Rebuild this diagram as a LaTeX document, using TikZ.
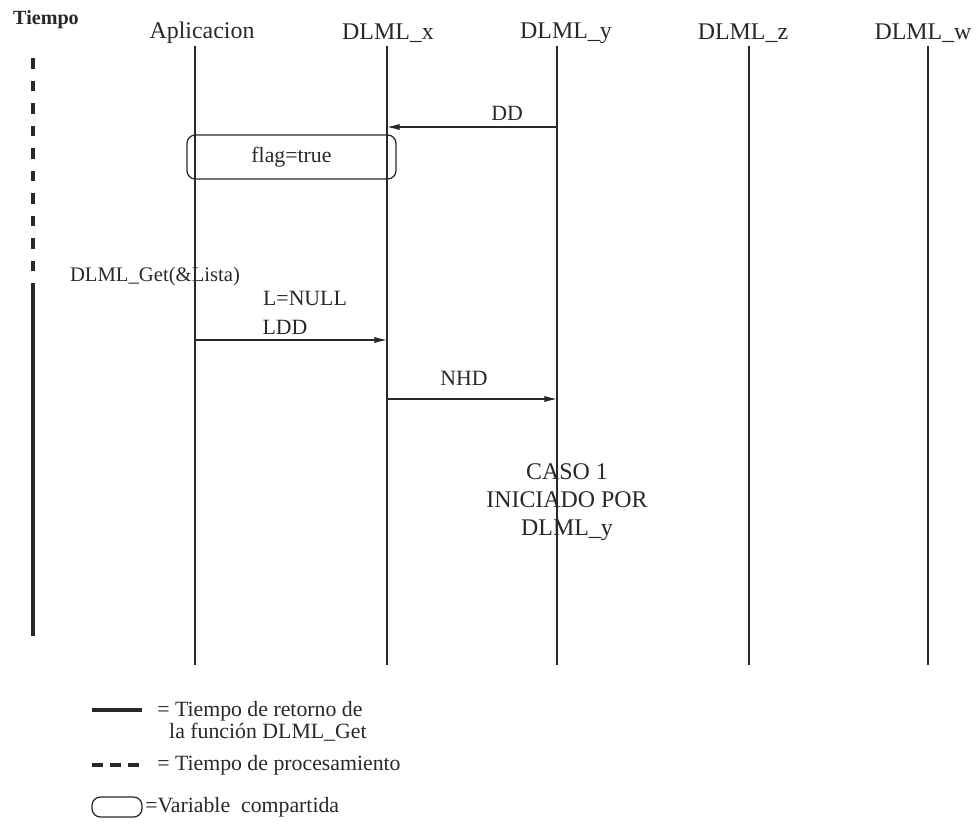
\documentclass[tikz,border=0pt]{standalone}
\usepackage{fontspec}
\setmainfont{Liberation Serif}
\usetikzlibrary{arrows.meta,positioning,calc}
\definecolor{ink}{RGB}{40,40,40}

\begin{document}
\begin{tikzpicture}[x=0.025cm, y=-0.025cm, color=ink,
  head/.style={font=\fontsize{17}{20}\selectfont},
  msg/.style={font=\fontsize{15.5}{18}\selectfont},
  life/.style={line width=0.9pt},
  arr/.style={-{Latex[length=9pt,width=4.5pt]}, line width=0.8pt},
  shared/.style={draw, rounded corners=6pt, line width=0.9pt},
  legtxt/.style={font=\fontsize{15.5}{15.6}\selectfont, anchor=west, align=left, inner sep=0pt}
]
\useasboundingbox (0,0) rectangle (976,825);

\node[font=\bfseries\fontsize{14.3}{17}\selectfont] (tiempo) at (46,20) {Tiempo};
\node[head] (app) at (202,33) {Aplicacion};
\node[head] (dx) at (388,33) {DLML\_x};
\node[head] (dy) at (566,33) {DLML\_y};
\node[head] (dz) at (743,33) {DLML\_z};
\node[head] (dw) at (923,33) {DLML\_w};

\foreach \n/\x in {app/195, dx/387, dy/557, dz/749, dw/928} {
  \coordinate (\n-top) at (\x,46);
  \coordinate (\n-bot) at (\x,665);
  \draw[life] (\n-top) -- (\n-bot);
}

\coordinate (t-top) at (33,58);
\coordinate (t-mid) at (33,272);
\coordinate (t-sol) at (33,283);
\coordinate (t-bot) at (33,636);
\draw[line width=2.3pt, dash pattern=on 7.5pt off 8.5pt] (t-top) -- (t-mid);
\draw[line width=2.6pt] (t-sol) -- (t-bot);

\node[msg] (dd) at (507,113) {DD};
\draw[arr] (dy-top |- 0,127) -- (dx-top |- 0,127);
\node[shared, msg, minimum width=5.225cm, minimum height=1.1cm] (flag) at (291.5,157) {flag=true};

\node[font=\fontsize{14.7}{17}\selectfont] (get) at (155,277) {DLML\_Get(\&Lista)};
\node[msg] (lnull) at (305,298) {L=NULL};
\node[msg] (ldd) at (285,327) {LDD};
\draw[arr] (app-top |- 0,340) -- (dx-top |- 0,340);

\node[msg] (nhd) at (464,378) {NHD};
\draw[arr] (dx-top |- 0,399) -- (dy-top |- 0,399);

\node[head, align=center] (caso) at (567,502) {CASO 1\\INICIADO POR\\DLML\_y};

\draw[line width=2.2pt] (92,710) -- (142,710);
\node[legtxt] (leg1) at (157,721) {= Tiempo de retorno de\\\hspace*{8.5pt}la función DLML\_Get};
\draw[line width=2.2pt, dash pattern=on 7.8pt off 5pt] (92,765) -- (140,765);
\node[legtxt] (leg2) at (157,765) {= Tiempo de procesamiento};
\draw[shared] (92,797) rectangle (142,817);
\node[legtxt] (leg3) at (145,807) {=Variable\ \ compartida};
\end{tikzpicture}
\end{document}
